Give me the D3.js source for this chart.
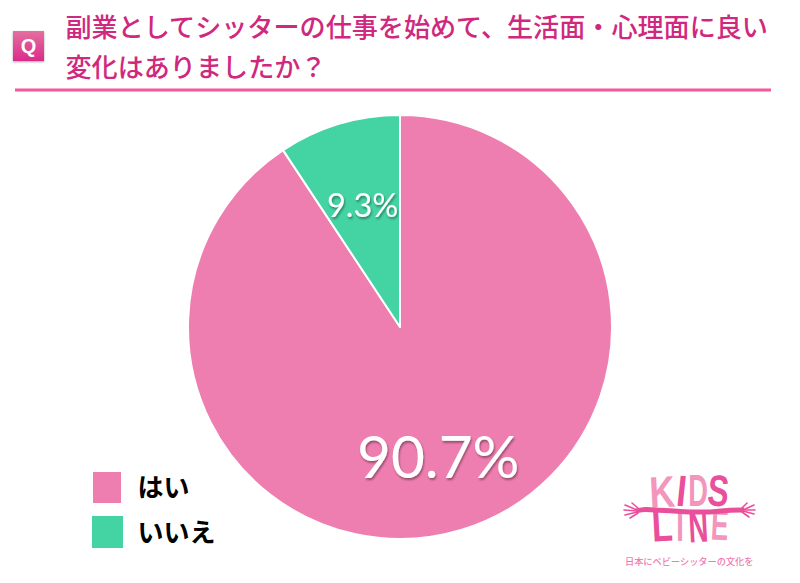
<!DOCTYPE html>
<html lang="ja"><head><meta charset="utf-8">
<style>html,body{margin:0;background:#fff}svg{display:block}</style>
<script src="https://cdn.jsdelivr.net/npm/d3@7"></script></head>
<body><svg id="c" width="800" height="583"></svg>
<script>
const categories = ["はい", "いいえ"];
const values = [90.7, 9.3];
const valueLabels = ["90.7%", "9.3%"];
const colors = ["#ee7eb0", "#44d3a2"];
const titleLines = ["副業としてシッターの仕事を始めて、生活面・心理面に良い", "変化はありましたか？"];
const logoTop = ["K", "I", "D", "S"];
const logoBottom = ["L", "I", "N", "E"];
const logoTagline = "日本にベビーシッターの文化を";
const jp = "'Noto Sans CJK JP','Noto Sans',sans-serif";

const svg = d3.select("#c");
const defs = svg.append("defs");
const grad = defs.append("linearGradient").attr("id","qg").attr("x1",0).attr("x2",0).attr("y1",0).attr("y2",1);
grad.append("stop").attr("offset","0").attr("stop-color","#e4709f");
grad.append("stop").attr("offset","1").attr("stop-color","#dc2a8c");
const sh = defs.append("filter").attr("id","ts").attr("x","-20%").attr("y","-20%").attr("width","140%").attr("height","150%");
sh.append("feDropShadow").attr("dx",1).attr("dy",2).attr("stdDeviation",1.2).attr("flood-color","#000").attr("flood-opacity",0.38);
const bs = defs.append("filter").attr("id","bs").attr("x","-20%").attr("y","-20%").attr("width","140%").attr("height","140%");
bs.append("feDropShadow").attr("dx",0).attr("dy",1).attr("stdDeviation",0.8).attr("flood-color","#000").attr("flood-opacity",0.35);

// Header
svg.append("rect").attr("x",13).attr("y",31).attr("width",31).attr("height",30).attr("fill","url(#qg)").attr("filter","url(#bs)");
svg.append("text").attr("x",28.5).attr("y",53).attr("text-anchor","middle").attr("fill","#fff")
  .attr("font-family","'Liberation Sans',sans-serif").attr("font-weight",700).attr("font-size",20).text("Q");
svg.selectAll("text.title").data(titleLines).join("text").attr("class","title")
  .attr("x",65.5).attr("y",(d,i)=>37+i*39.5).attr("fill","#d0287e")
  .attr("font-family",jp).attr("font-weight",500).attr("font-size",26.1).text(d=>d);
svg.append("line").attr("x1",15).attr("x2",771).attr("y1",90).attr("y2",90).attr("stroke","#f2599f").attr("stroke-width",3);

// Pie
const cx=400, cy=327, R=212;
const pie = d3.pie().sort(null).value(d=>d);
const arc = d3.arc().innerRadius(0).outerRadius(R);
const g = svg.append("g").attr("transform",`translate(${cx},${cy})`);
g.selectAll("path").data(pie(values)).join("path")
  .attr("d",arc).attr("fill",(d,i)=>colors[i]).attr("stroke","#fff").attr("stroke-width",2).attr("stroke-linejoin","round");

const labelPos = [[357,478,58.5],[327,217,32.5]];
svg.selectAll("text.val").data(valueLabels).join("text").attr("class","val")
  .attr("x",(d,i)=>labelPos[i][0]).attr("y",(d,i)=>labelPos[i][1]).attr("font-size",(d,i)=>labelPos[i][2])
  .attr("fill","#fff").attr("font-family","Lato,sans-serif").attr("font-weight",400).attr("filter","url(#ts)").text(d=>d);

// Legend
const lg = [[93,472,28,31,137.5,497],[92,516,31,32,137.5,542]];
categories.forEach((c,i)=>{
  svg.append("rect").attr("x",lg[i][0]).attr("y",lg[i][1]).attr("width",lg[i][2]).attr("height",lg[i][3]).attr("fill",colors[i]);
  svg.append("text").attr("x",lg[i][4]).attr("y",lg[i][5]).attr("fill","#000").attr("font-family",jp)
    .attr("font-weight",700).attr("font-size",26).text(c);
});

// Logo
const logo = svg.append("g");
const lp="#f296bd", dp="#ea4f9b";
// x centre, baseline, rotation, horizontal scale, colour
const topPos=[[663,507,-3,.8,lp],[680,506,6,.8,dp],[698,506,0,.62,lp],[717,506,5,.72,dp]];
const botPos=[[663,541,-3,.78,dp],[680,541,0,.62,lp],[699,542,-3,.62,dp],[719,540,3,.6,lp]];
[[logoTop,topPos],[logoBottom,botPos]].forEach(([ls,ps])=>{
  ls.forEach((l,i)=>{
    logo.append("text").attr("transform",`translate(${ps[i][0]},${ps[i][1]}) rotate(${ps[i][2]}) scale(${ps[i][3]},1)`)
      .attr("text-anchor","middle").attr("fill",ps[i][4]).attr("font-family","'Liberation Sans',sans-serif")
      .attr("font-weight",700).attr("font-size",44).text(l);
  });
});
// Arms and hands
const armL=d3.line().curve(d3.curveBasis);
[[[636,511],[645,509],[655,510],[690,512]],[[690,512],[715,512],[730,510],[744,510]]].forEach(a=>
  logo.append("path").attr("d",armL(a)).attr("fill","none").attr("stroke",dp).attr("stroke-width",5));
[[[637,510],[625,505]],[[637,511],[624,510]],[[637,512],[625,515]],[[638,513],[630,518]],[[638,508],[632,503]],
 [[743,510],[754,505]],[[743,510],[755,510]],[[743,511],[754,514]],[[742,512],[749,517]],[[742,508],[747,503]]].forEach(a=>
  logo.append("path").attr("d",armL(a)).attr("fill","none").attr("stroke",dp).attr("stroke-width",1.6).attr("stroke-linecap","round"));
logo.append("text").attr("x",625).attr("y",565).attr("fill","#f07cb2").attr("font-family",jp)
  .attr("font-weight",500).attr("font-size",9.2).text(logoTagline);
</script></body></html>
